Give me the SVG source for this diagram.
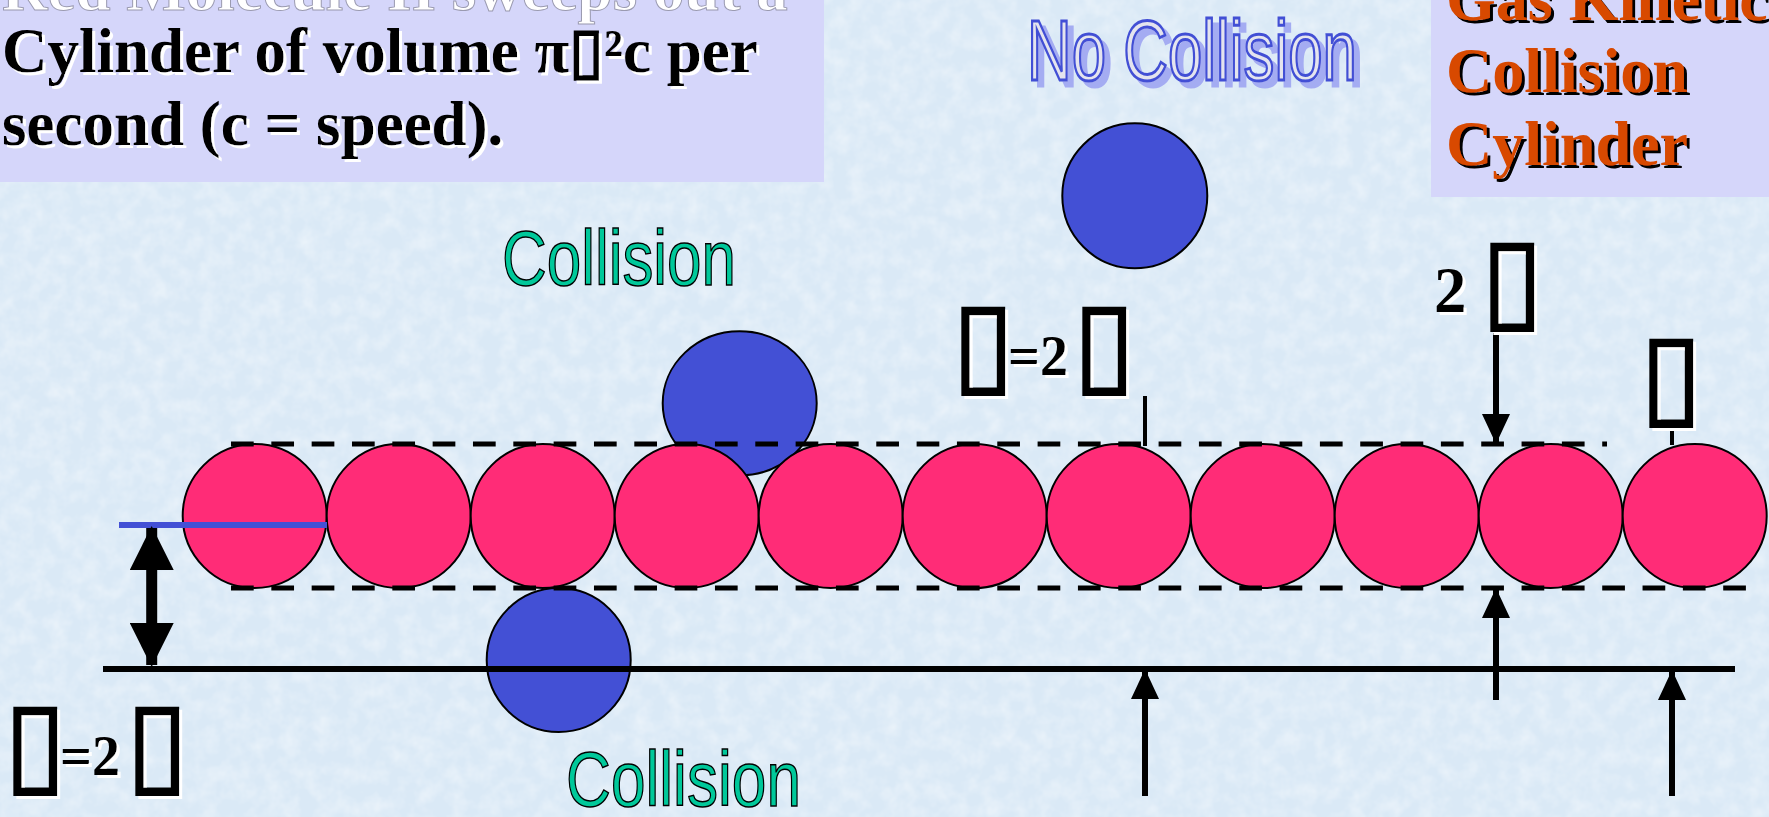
<svg xmlns="http://www.w3.org/2000/svg" width="1769" height="817" viewBox="0 0 1769 817">
<defs>
<filter id="wsh" x="-10%" y="-10%" width="130%" height="130%"><feDropShadow dx="3" dy="3" stdDeviation="0" flood-color="#ffffff" flood-opacity="1"/></filter>
<filter id="bsh" x="-10%" y="-10%" width="130%" height="130%"><feDropShadow dx="3" dy="3" stdDeviation="0" flood-color="#000000" flood-opacity="1"/></filter>
<filter id="psh" x="-10%" y="-10%" width="130%" height="130%"><feDropShadow dx="6" dy="6" stdDeviation="0" flood-color="#a4acf2" flood-opacity="1"/></filter>
<filter id="tex" x="0" y="0" width="100%" height="100%"><feTurbulence type="fractalNoise" baseFrequency="0.06" numOctaves="3" seed="7"/><feColorMatrix type="matrix" values="0 0 0 0 1  0 0 0 0 1  0 0 0 0 1  0 0 0 0.7 -0.25"/></filter>
<marker id="ah" viewBox="0 0 30 28" markerWidth="30" markerHeight="28" refX="28" refY="14" orient="auto" markerUnits="userSpaceOnUse"><path d="M0,0 L30,14 L0,28 z" fill="#000"/></marker>
<marker id="bh" viewBox="0 0 44 44" markerWidth="44" markerHeight="44" refX="42" refY="22" orient="auto-start-reverse" markerUnits="userSpaceOnUse"><path d="M0,0 L44,22 L0,44 z" fill="#000"/></marker>
</defs>
<style>
.serif{font-family:"Liberation Serif","Times New Roman",serif;font-weight:bold}
.blk{fill:#000;filter:url(#wsh)}
.org{fill:#d84a00;filter:url(#bsh)}
.tofu{font-family:"DejaVu Sans",sans-serif;font-weight:bold;fill:#000;stroke:#000;stroke-width:2;filter:url(#wsh)}
.teal{font-family:"Liberation Sans",Arial,sans-serif;fill:#00c89a;stroke:#000;stroke-width:1.5}
.nocol{font-family:"Liberation Sans",Arial,sans-serif;fill:#e4e4ee;stroke:#4350d5;stroke-width:3;filter:url(#psh)}
.red{fill:#ff2c77;stroke:#000;stroke-width:2}
.blue{fill:#4350d5;stroke:#000;stroke-width:2}
.dash{stroke:#000;stroke-width:5;stroke-dasharray:22.7 17.63;fill:none}
.solid{stroke:#000;stroke-width:6;fill:none}
.arr{stroke:#000;stroke-width:6;fill:none;marker-end:url(#ah)}
.tick{stroke:#000;stroke-width:4}
</style>
<rect x="0" y="0" width="1769" height="817" fill="#dae9f6"/>
<rect x="0" y="0" width="1769" height="817" filter="url(#tex)"/>

<g id="desc-box">
<rect x="0" y="0" width="824" height="182" fill="#d5d6fa"/>
<text class="serif" x="2" y="10" font-size="63" fill="#ffffff" stroke="#9a9ab0" stroke-width="1">Red Molecule II sweeps out a</text>
<text class="serif blk" x="2" y="72" font-size="63">Cylinder of volume π▯²c per</text>
<text class="serif blk" x="2" y="145" font-size="63">second (c = speed).</text>
</g>

<g id="title-box">
<rect x="1431" y="0" width="338" height="197" fill="#d5d6fa"/>
<text class="serif org" x="1446" y="20" font-size="64">Gas Kinetic</text>
<text class="serif org" x="1446" y="92" font-size="64">Collision</text>
<text class="serif org" x="1446" y="165" font-size="64">Cylinder</text>
</g>

<g id="label-no-collision">
<text class="nocol" x="1027" y="80" font-size="86" textLength="330" lengthAdjust="spacingAndGlyphs">No Collision</text>
</g>
<g id="label-collision-top">
<text class="teal" x="502" y="285" font-size="78" textLength="234" lengthAdjust="spacingAndGlyphs">Collision</text>
</g>
<g id="label-collision-bottom">
<text class="teal" x="566" y="806" font-size="78" textLength="235" lengthAdjust="spacingAndGlyphs">Collision</text>
</g>

<g id="blue-top-collision"><ellipse class="blue" cx="739.7" cy="403.3" rx="77" ry="72"/></g>
<g id="blue-no-collision"><circle class="blue" cx="1134.8" cy="195.8" r="72.5"/></g>

<g id="red-molecules">
<circle class="red" cx="254.7" cy="516" r="72"/>
<circle class="red" cx="398.7" cy="516" r="72"/>
<circle class="red" cx="542.7" cy="516" r="72"/>
<circle class="red" cx="686.7" cy="516" r="72"/>
<circle class="red" cx="830.7" cy="516" r="72"/>
<circle class="red" cx="974.7" cy="516" r="72"/>
<circle class="red" cx="1118.7" cy="516" r="72"/>
<circle class="red" cx="1262.7" cy="516" r="72"/>
<circle class="red" cx="1406.7" cy="516" r="72"/>
<circle class="red" cx="1550.7" cy="516" r="72"/>
<circle class="red" cx="1694.7" cy="516" r="72"/>
</g>

<g id="blue-bottom-collision"><circle class="blue" cx="558.7" cy="660" r="72"/></g>

<g id="connectors">
<line class="dash" x1="231" y1="444" x2="1607" y2="444"/>
<line class="dash" x1="231" y1="588" x2="1762" y2="588"/>
<line class="solid" x1="103" y1="669" x2="1735" y2="669"/>
<line x1="119" y1="525" x2="327" y2="525" stroke="#4350d5" stroke-width="6"/>
<line x1="151.7" y1="528" x2="151.7" y2="665" stroke="#000" stroke-width="11" marker-start="url(#bh)" marker-end="url(#bh)"/>
<line class="tick" x1="1145" y1="396" x2="1145" y2="446"/>
<line class="tick" x1="1672" y1="428" x2="1672" y2="445"/>
<line class="arr" x1="1496" y1="333" x2="1496" y2="442"/>
<line class="arr" x1="1496" y1="700" x2="1496" y2="590"/>
<line class="arr" x1="1145" y1="796" x2="1145" y2="671"/>
<line class="arr" x1="1672" y1="796" x2="1672" y2="672"/>
</g>

<g id="label-sigma-mid">
<text class="tofu" x="983" y="381" font-size="114" text-anchor="middle">▯</text>
<text class="serif blk" x="1008" y="375" font-size="56">=2</text>
<text class="tofu" x="1104" y="381" font-size="114" text-anchor="middle">▯</text>
</g>
<g id="label-sigma-left">
<text class="tofu" x="35" y="781" font-size="114" text-anchor="middle">▯</text>
<text class="serif blk" x="60" y="775" font-size="56">=2</text>
<text class="tofu" x="157" y="781" font-size="114" text-anchor="middle">▯</text>
</g>
<g id="label-2d">
<text class="serif blk" x="1434" y="312" font-size="65">2</text>
<text class="tofu" x="1512" y="317" font-size="114" text-anchor="middle">▯</text>
</g>
<g id="label-d">
<text class="tofu" x="1671" y="413" font-size="114" text-anchor="middle">▯</text>
</g>
</svg>
